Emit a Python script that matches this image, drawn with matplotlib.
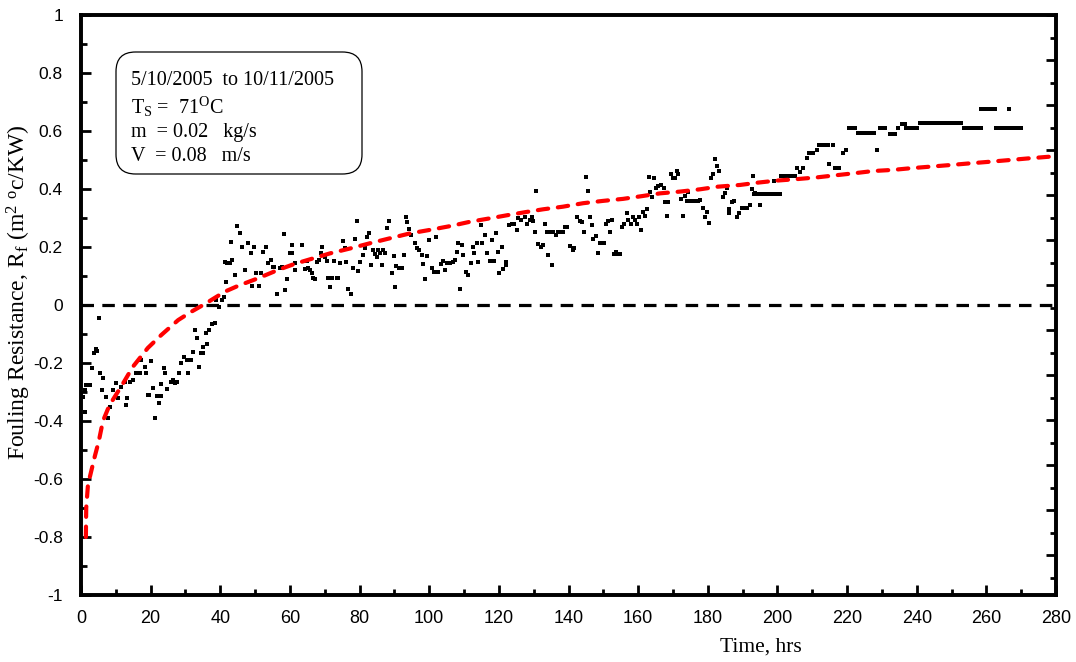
import matplotlib
matplotlib.use("Agg")
import matplotlib.pyplot as plt
from matplotlib.patches import FancyBboxPatch
from matplotlib.ticker import MultipleLocator, FixedLocator, FuncFormatter, NullFormatter

plt.rcParams['axes.unicode_minus'] = False
plt.rcParams['mathtext.fontset'] = 'custom'
plt.rcParams['mathtext.rm'] = 'Liberation Serif'
plt.rcParams['mathtext.it'] = 'Liberation Serif'
plt.rcParams['lines.scale_dashes'] = False

# ---------------- data ----------------
time_hrs = [
    0.6, 1.05, 1.5, 2.5, 1.05, 3.2, 3.7, 4.4, 4.7, 5.1, 5.4, 6.3, 6.0, 7.3, 7.8, 8.2, 9.2, 10.1, 10.6,
    11.6, 12.5, 13.3, 12.8, 14.0, 14.9, 15.9, 16.8, 17.3, 18.3, 18.8, 20.2, 19.2, 19.6, 20.7, 21.2,
    21.8, 22.3, 22.9, 22.9, 23.8, 24.2, 24.8, 25.8, 26.4, 26.9, 27.7, 28.1, 28.8, 29.6, 30.3, 30.7,
    31.7, 32.2, 32.8, 33.4, 33.8, 34.4, 35.0, 35.0, 36.3, 36.0, 36.9, 37.6, 38.4, 38.9, 39.5, 40.5,
    41.1, 41.7, 41.3, 42.0, 42.7, 43.4, 43.2, 44.3, 44.9, 45.6, 46.2, 47.0, 47.9, 48.7, 49.1, 49.7,
    50.3, 51.0, 51.6, 52.3, 53.0, 53.7, 54.5, 55.1, 55.3, 56.3, 57.1, 57.7, 58.3, 58.7, 59.2, 59.9,
    60.6, 61.4,
    60.5, 61.5, 63.4, 64.3, 65.3, 64.8, 65.8, 66.3, 66.7, 67.2, 67.7, 68.4, 69.1, 68.9, 70.1, 70.7,
    71.0, 71.5, 72.0, 72.7, 73.4, 73.9, 74.4, 75.1, 75.8, 76.1, 76.8, 77.4, 78.0, 78.7, 79.2, 79.6,
    80.1, 80.9, 81.5, 82.0, 82.8, 83.2, 83.9, 84.4, 84.9, 85.4, 85.9, 86.3, 86.6, 87.3, 87.9, 88.5,
    89.2, 89.9, 90.2, 90.6, 91.4, 92.1, 92.8, 93.3, 93.7, 94.3, 94.7, 95.9, 96.6, 97.2, 97.8, 98.3,
    98.8, 99.4, 100.0, 100.7, 101.4, 101.9, 102.6, 103.3, 104.1, 104.5, 105.2, 105.9, 106.7, 107.4,
    107.9, 108.3, 108.8, 109.3, 109.8, 110.5, 111.2, 111.9, 112.5, 112.8, 113.6, 114.1, 114.8, 115.3,
    116.0, 116.5, 117.4, 117.9, 118.6, 119.2, 119.8, 120.1, 121.3, 122.0, 123.0,
    120.8, 122.1, 123.7, 124.4, 125.1, 125.6, 126.3, 127.5, 128.0, 128.8, 129.4, 129.9, 130.4,
    130.7, 131.3, 132.0, 132.6, 133.2, 133.7, 134.2, 134.7, 135.2, 135.6, 136.4, 137.1, 137.8, 138.3,
    139.0, 139.6, 140.4, 141.2, 141.6, 142.5, 143.3, 143.8, 144.4, 145.0, 145.7, 146.2, 146.7, 147.1,
    147.9, 148.6, 149.0, 149.5, 150.2, 150.8, 151.4, 151.9, 152.5, 153.0, 153.6, 154.3, 154.9, 155.5,
    155.9, 156.7, 157.2, 157.9, 158.4, 159.1, 159.6, 160.3, 160.7, 161.5, 162.0, 162.5, 163.0, 163.4,
    163.9, 164.6, 165.2, 165.8, 166.5, 167.3, 167.7, 168.2, 168.7, 169.3, 169.9, 170.6, 171.1, 171.5,
    172.2, 172.8, 173.4, 173.9, 174.4, 175.1, 175.8, 176.6, 177.3, 177.9, 178.5, 179.2, 179.9, 180.4,
    180.8, 181.6, 182.0, 182.7, 183.3,
    185.4, 184.9, 184.5, 187.0, 187.4, 186.2, 186.0, 188.3, 189.0, 189.7, 190.7, 191.3, 192.1, 192.6,
    192.9, 195.0, 193.6, 194.5,
    193.4, 194.2, 195.0, 195.8, 196.6, 197.4, 198.2, 199.0, 199.8, 200.6,
    198.9, 201.0, 201.8, 202.6, 203.4, 204.2, 205.0, 205.5, 206.5, 207.4, 208.4, 209.2, 210.3, 211.5,
    212.0, 212.8, 213.6, 214.4, 214.9, 216.1, 216.5, 217.7, 218.7, 219.6,
    220.6, 221.4, 222.2, 223.0, 223.8, 224.6, 225.4, 226.2, 227.0, 227.8, 228.7,
    229.4, 230.2, 231.0, 232.2, 233.0, 233.8, 234.6, 235.8, 236.6, 237.0, 237.8, 238.6, 239.4, 240.2,
    240.8, 241.6, 242.4, 243.2, 244.0, 244.8, 245.6, 246.4, 247.2, 248.0, 248.8, 249.6, 250.4, 251.2,
    252.0, 252.8,
    253.6, 254.4, 255.2, 256.0, 256.8, 257.6, 258.4,
    258.6, 259.4, 260.2, 261.0, 261.8, 262.6, 266.6,
    262.8, 263.6, 264.4, 265.2, 266.0, 266.8, 267.6, 268.4, 269.2, 270.0,
]
fouling_r = [
    -0.316, -0.293, -0.276, -0.276, -0.368, -0.218, -0.167, -0.153, -0.157, -0.046, -0.233, -0.253,
    -0.293, -0.316, -0.391, -0.351, -0.293, -0.270, -0.322, -0.282, -0.264, -0.320, -0.345, -0.264,
    -0.259, -0.236, -0.233, -0.190, -0.213, -0.233, -0.193, -0.310, -0.310, -0.287, -0.388, -0.314,
    -0.337, -0.314, -0.272, -0.218, -0.236, -0.291, -0.264, -0.259, -0.270, -0.264, -0.236, -0.201,
    -0.178, -0.190, -0.236, -0.190, -0.161, -0.086, -0.115, -0.213, -0.167, -0.167, -0.144, -0.134,
    -0.095, -0.086, -0.066, -0.063, 0.017, -0.008, 0.017, 0.026, 0.080, 0.149, 0.146, 0.146, 0.155,
    0.216, 0.103, 0.273, 0.247, 0.199, 0.121, 0.213, 0.180, 0.066, 0.201, 0.111, 0.066, 0.111, 0.184,
    0.201, 0.146, 0.155, 0.132, 0.132, 0.038, 0.126, 0.132, 0.245, 0.052, 0.089, 0.178, 0.207, 0.144,
    0.180, 0.121, 0.207, 0.123, 0.126, 0.153, 0.121, 0.109, 0.092, 0.088, 0.149, 0.155, 0.199, 0.180,
    0.166, 0.153, 0.092, 0.063, 0.092, 0.153, 0.092, 0.092, 0.146, 0.222, 0.196, 0.149, 0.054, 0.038,
    0.126, 0.226, 0.291, 0.117, 0.149, 0.172, 0.196, 0.236, 0.247, 0.138, 0.189, 0.176, 0.166, 0.190,
    0.180, 0.138, 0.190, 0.178, 0.264, 0.291, 0.111, 0.169, 0.063, 0.134, 0.126, 0.126, 0.172, 0.305,
    0.287, 0.261, 0.241, 0.213, 0.196, 0.190, 0.172, 0.141, 0.088, 0.169, 0.224, 0.126, 0.115, 0.236,
    0.115, 0.141, 0.153, 0.121, 0.146, 0.146, 0.149, 0.155, 0.184, 0.213, 0.054, 0.207, 0.172, 0.115,
    0.103, 0.144, 0.201, 0.180, 0.213, 0.149, 0.276, 0.213, 0.241, 0.180, 0.153, 0.224, 0.153, 0.247,
    0.184, 0.111, 0.123, 0.149, 0.276,
    0.201, 0.138, 0.279, 0.279, 0.258, 0.299, 0.293, 0.304, 0.279, 0.293, 0.304, 0.291, 0.253, 0.394,
    0.210, 0.201, 0.207, 0.279, 0.253, 0.172, 0.253, 0.138, 0.253, 0.241, 0.253, 0.253, 0.253, 0.270,
    0.268, 0.203, 0.189, 0.195, 0.304, 0.291, 0.287, 0.253, 0.440, 0.394, 0.304, 0.276, 0.226, 0.238,
    0.180, 0.215, 0.215, 0.215, 0.279, 0.291, 0.253, 0.293, 0.176, 0.184, 0.176, 0.176, 0.268, 0.279,
    0.318, 0.293, 0.279, 0.304, 0.293, 0.279, 0.304, 0.258, 0.322, 0.307, 0.330, 0.440, 0.388, 0.374,
    0.437, 0.405, 0.410, 0.414, 0.402, 0.356, 0.307, 0.356, 0.452, 0.437, 0.437, 0.463, 0.452, 0.364,
    0.307, 0.376, 0.360, 0.391, 0.360, 0.360, 0.360, 0.360, 0.362, 0.333, 0.304, 0.322, 0.283,
    0.437, 0.452, 0.502, 0.480, 0.463,
    0.402, 0.387, 0.371, 0.356, 0.360, 0.330, 0.318, 0.304, 0.318, 0.333, 0.333, 0.333, 0.345, 0.399,
    0.445, 0.345, 0.385, 0.383,
    0.383, 0.383, 0.383, 0.383, 0.383, 0.383, 0.383, 0.383, 0.383, 0.383,
    0.429, 0.445, 0.445, 0.445, 0.445, 0.445, 0.445, 0.471, 0.460, 0.471, 0.506, 0.525, 0.525, 0.534,
    0.552, 0.552, 0.552, 0.552, 0.486, 0.552, 0.471, 0.471, 0.523, 0.534,
    0.609, 0.609, 0.609, 0.594, 0.594, 0.594, 0.594, 0.594, 0.594, 0.594, 0.534,
    0.609, 0.609, 0.609, 0.591, 0.591, 0.591, 0.609, 0.624, 0.624, 0.609, 0.609, 0.609, 0.609, 0.609,
    0.626, 0.626, 0.626, 0.626, 0.626, 0.626, 0.626, 0.626, 0.626, 0.626, 0.626, 0.626, 0.626, 0.626,
    0.626, 0.626,
    0.609, 0.609, 0.609, 0.609, 0.609, 0.609, 0.609,
    0.675, 0.675, 0.675, 0.675, 0.675, 0.675, 0.675,
    0.609, 0.609, 0.609, 0.609, 0.609, 0.609, 0.609, 0.609, 0.609, 0.609,
]

# fitted trend (red dashed)
fit_time = [1.4, 1.5, 2.0, 3.0, 4.0, 5.1, 6.3, 8.2, 11.6, 14.9, 19.2, 23.1, 27.9, 31.7, 35.5, 41.3,
            45.1, 50.8, 56.6, 61.4, 71.5, 77.3, 83.0, 88.7, 94.5, 100.2, 106.0, 111.7, 117.5, 122.6,
            127.5, 132.7, 138.4, 144.2, 149.9, 155.7, 161.4, 166.3, 172.0, 177.8, 182.9, 189.3, 194.4,
            199.8, 205.5, 211.3, 216.5, 221.8, 227.5, 233.3, 238.6, 243.8, 250.0, 255.8, 261.0, 266.8,
            272.5, 277.7, 280.0]
fit_r = [-0.80, -0.70, -0.62, -0.57, -0.52, -0.47, -0.40, -0.345, -0.28, -0.213, -0.148, -0.103,
         -0.052, -0.023, 0.003, 0.046, 0.066, 0.092, 0.121, 0.142, 0.178, 0.195, 0.213, 0.230, 0.247,
         0.259, 0.272, 0.287, 0.299, 0.310, 0.320, 0.330, 0.339, 0.351, 0.359, 0.366, 0.376, 0.385,
         0.391, 0.399, 0.408, 0.414, 0.422, 0.429, 0.434, 0.440, 0.447, 0.454, 0.462, 0.466, 0.472,
         0.477, 0.483, 0.489, 0.494, 0.500, 0.506, 0.511, 0.513]

zero_x = [0, 280]
zero_y = [0, 0]

x_ticks = list(range(0, 281, 20))
y_ticks = [-1, -0.8, -0.6, -0.4, -0.2, 0, 0.2, 0.4, 0.6, 0.8, 1]

info_lines = [
    "5/10/2005  to 10/11/2005",
    r"T$_\mathrm{S}$ =  71$^\mathrm{O}$C",
    "m  = 0.02   kg/s",
    "V  = 0.08   m/s",
]

# ---------------- figure ----------------
fig = plt.figure(figsize=(10.76, 6.62), dpi=100)
ax = fig.add_axes([81/1076, 1 - 595/662, 975/1076, 580/662])
ax.set_xlim(0, 280)
ax.set_ylim(-1, 1)

ax.plot(zero_x, zero_y, color='black', lw=2.3, dashes=(9.0, 6.0), zorder=2)
ax.plot(time_hrs, fouling_r, 's', ms=2.8, mew=0, color='black', zorder=3)
ax.plot(fit_time, fit_r, color='#ff0000', lw=3.0, dashes=(7.5, 7.0),
        dash_capstyle='round', zorder=4)

for s in ax.spines.values():
    s.set_linewidth(2.6)

ax.set_xticks(x_ticks)
ax.xaxis.set_minor_locator(MultipleLocator(10))
ax.set_yticks(y_ticks)
ax.yaxis.set_minor_locator(MultipleLocator(0.1))
ax.yaxis.set_major_formatter(FuncFormatter(lambda v, p: '%g' % round(v, 2)))

ax.tick_params(axis='both', which='major', direction='in', length=7, width=2.0)
ax.tick_params(axis='both', which='minor', direction='in', length=4, width=2.0)
ax.tick_params(axis='x', which='major', pad=11)
ax.tick_params(axis='y', which='major', pad=13)
for lab in ax.get_xticklabels():
    lab.set_fontfamily('Liberation Sans')
    lab.set_fontsize(13)
for lab in ax.get_yticklabels():
    lab.set_fontfamily('Liberation Sans')
    lab.set_fontsize(12.5)

# right-hand tick marks
ax2 = ax.twinx()
ax2.set_ylim(-1, 1)
right_major = [1 - 0.1552 * k for k in range(0, 13)]
right_minor = [1 - 0.0776 - 0.1552 * k for k in range(0, 13)]
ax2.yaxis.set_major_locator(FixedLocator([v for v in right_major if v >= -1]))
ax2.yaxis.set_minor_locator(FixedLocator([v for v in right_minor if v >= -1]))
ax2.yaxis.set_major_formatter(NullFormatter())
ax2.tick_params(axis='y', which='major', direction='in', length=7, width=2.0)
ax2.tick_params(axis='y', which='minor', direction='in', length=4, width=2.0)
for s in ax2.spines.values():
    s.set_linewidth(2.6)

ax.set_xlabel("Time, hrs", family='Liberation Serif', fontsize=15.5, va='center')
ax.xaxis.set_label_coords((761 - 81) / 975, -(647 - 595) / 580)
ax.set_ylabel(r"Fouling Resistance, R$_\mathrm{f}$ (m$^\mathrm{2}$ $^\mathrm{o}$c/KW)",
              family='Liberation Serif', fontsize=17, va='center')
ax.yaxis.set_label_coords(-(81 - 19) / 975, (595 - 292) / 580)

# info box
W, H = 975.0, 580.0
bx0, by0 = (116 - 81) / W, (595 - 174) / H
bw, bh = (362 - 116) / W, (174 - 52) / H
box = FancyBboxPatch((bx0, by0), bw, bh, boxstyle="round,pad=0,rounding_size=0.02",
                     mutation_aspect=W / H, transform=ax.transAxes,
                     facecolor='white', edgecolor='black', lw=0.9, zorder=5)
ax.add_patch(box)
line_base = [85, 114, 137, 161]
for txt, yb in zip(info_lines, line_base):
    ax.text((131 - 81) / W, (595 - yb) / H, txt, transform=ax.transAxes,
            family='Liberation Serif', fontsize=14.5, va='baseline', ha='left', zorder=6)

fig.savefig("out.png", dpi=100)
